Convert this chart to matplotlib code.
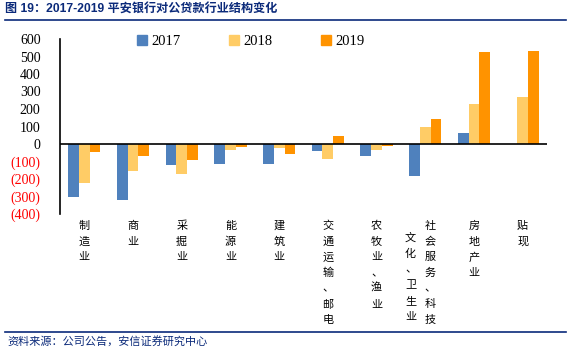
import numpy as np
import matplotlib
matplotlib.use("Agg")
import matplotlib.pyplot as plt
from matplotlib.lines import Line2D
from matplotlib.transforms import blended_transform_factory

plt.rcParams['font.family'] = ['Liberation Serif', 'Noto Sans CJK SC', 'DejaVu Sans']

# data
industries = ['制造业', '商业', '采掘业', '能源业', '建筑业',
              '交通运输、邮电', '农牧业、渔业', '社会服务、科技、文化、卫生业',
              '房地产业', '贴现']
v2017 = [-300, -318, -118, -112, -112, -38, -67, -185, 65, 0]
v2018 = [-220, -152, -170, -32, -25, -84, -32, 100, 230, 270]
v2019 = [-48, -67, -90, -19, -55, 48, -10, 145, 528, 533]
years = ['2017', '2018', '2019']
colors = ['#4F81BD', '#FFCC66', '#FF9300']
yticks = [600, 500, 400, 300, 200, 100, 0, -100, -200, -300, -400]

# vertical label columns (one string per column, left to right)
label_cols = [['制造业'], ['商业'], ['采掘业'], ['能源业'], ['建筑业'],
              ['交通运输、邮电'], ['农牧业、渔业'],
              ['文化、卫生业', '社会服务、科技'],
              ['房地产业'], ['贴现']]

W, H = 572, 351
fig = plt.figure(figsize=(W / 100, H / 100), dpi=100)
ax = fig.add_axes([60 / W, 1 - 214 / H, 487 / W, 175 / H])

x = np.arange(len(industries))
bw = 0.22
for i, (vals, c, yr) in enumerate(zip([v2017, v2018, v2019], colors, years)):
    ax.bar(x + (i - 1) * bw, vals, bw, color=c, label=yr, zorder=2)

ax.axhline(0, color='black', lw=1.2, zorder=3)
ax.set_xlim(-0.5, len(industries) - 0.5)
ax.set_ylim(-400, 600)
ax.set_yticks(yticks)
ax.set_yticklabels([f'({-v})' if v < 0 else str(v) for v in yticks], fontsize=10)
for lbl, v in zip(ax.get_yticklabels(), yticks):
    lbl.set_color('red' if v < 0 else 'black')
ax.tick_params(axis='y', length=0, pad=14)
ax.set_xticks([])
for s in ['top', 'right', 'bottom']:
    ax.spines[s].set_visible(False)
ax.spines['left'].set_linewidth(1.2)

# legend
handles = [Line2D([], [], marker='s', ls='', color=c, markersize=6.5) for c in colors]
fig.legend(handles, years, loc='center left', bbox_to_anchor=(137 / W, 1 - 41 / H),
           ncol=3, frameon=False, fontsize=10.5, handlelength=0.7, handletextpad=0.3,
           columnspacing=3.3, borderpad=0, borderaxespad=0)

# vertical category labels
tr = blended_transform_factory(ax.transData, fig.transFigure)
step = 15.7 / H
for i, cols in enumerate(label_cols):
    if len(cols) == 1:
        offsets = [0.0]
        starts = [226]
    else:
        offsets = [-0.3, 0.1]
        starts = [238, 226]
    for col, off, st in zip(cols, offsets, starts):
        for k, ch in enumerate(col):
            fig.text(i + off, 1 - st / H - k * step, ch, transform=tr,
                     ha='center', va='center', fontsize=8,
                     family=['Noto Sans CJK SC'], color='black')

# title, rules and source
navy = '#0B2A7A'
fig.text(5 / W, 1 - 10 / H, '图 19：2017-2019 平安银行对公贷款行业结构变化',
         fontsize=8.7, fontweight='bold', color=navy, va='center',
         family=['Liberation Sans', 'Noto Sans CJK SC'])
fig.add_artist(Line2D([5 / W, 566 / W], [1 - 20 / H, 1 - 20 / H], color=navy, lw=1.2,
                      transform=fig.transFigure))
fig.add_artist(Line2D([5 / W, 566 / W], [1 - 332 / H, 1 - 332 / H], color=navy, lw=1.2,
                      transform=fig.transFigure))
fig.text(7 / W, 1 - 341 / H, '资料来源：公司公告，安信证券研究中心', fontsize=8,
         color=navy, va='center', style='italic', family=['Noto Sans CJK SC'])

fig.savefig('out.png', dpi=100)
